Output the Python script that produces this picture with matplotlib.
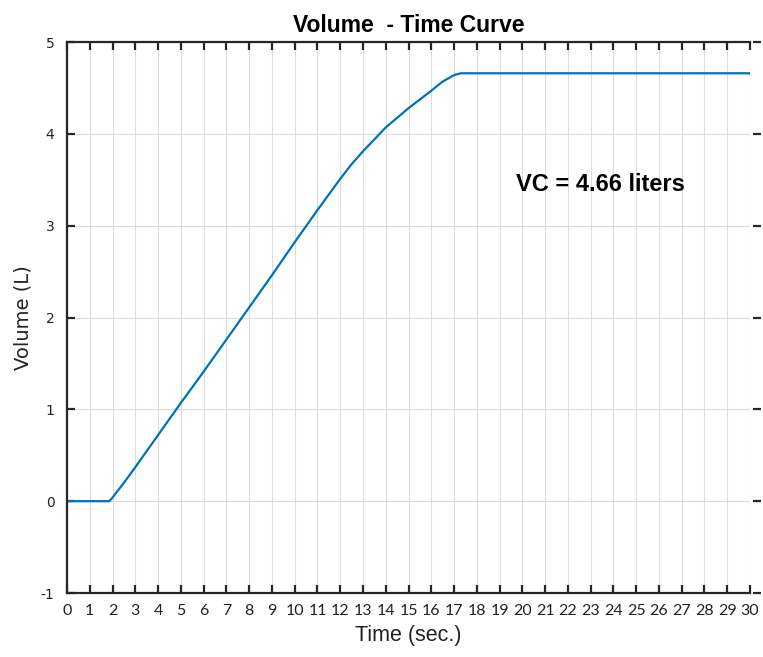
import matplotlib
matplotlib.use("Agg")
import matplotlib.pyplot as plt

# dados
tempo = [0, 1, 1.86, 2, 2.5, 3, 4, 5, 6, 7, 8, 9, 10, 11, 12, 12.5, 13,
         14, 15, 16, 16.5, 17, 17.3, 30]
volume = [0, 0, 0, 0.04, 0.2, 0.37, 0.72, 1.07, 1.41, 1.76, 2.11, 2.46, 2.82,
          3.17, 3.51, 3.67, 3.81, 4.07, 4.28, 4.47, 4.57, 4.64, 4.66, 4.66]
x_ticks = list(range(0, 31))
y_ticks = [-1, 0, 1, 2, 3, 4, 5]
vc = 4.66

cor_linha = "#0072BD"
cor_eixo = "#262626"

fig = plt.figure(figsize=(7.63, 6.57), dpi=100)
ax = fig.add_axes([0.0878, 0.0974, 0.8952, 0.8386])

ax.plot(tempo, volume, color=cor_linha, linewidth=1.6)

ax.set_xlim(0, 30)
ax.set_ylim(-1, 5)
ax.set_xticks(x_ticks)
ax.set_yticks(y_ticks)
ax.set_xticklabels([str(t) for t in x_ticks], fontsize=11.5, family="Lato")
ax.set_yticklabels([str(t) for t in y_ticks], fontsize=11, family="DejaVu Sans")

# grade
ax.grid(True, color="#dcdcdc", linewidth=0.8)
ax.set_axisbelow(True)

# eixos e ticks
for lado in ["left", "bottom", "top"]:
    ax.spines[lado].set_linewidth(1.6)
    ax.spines[lado].set_color(cor_eixo)
ax.spines["right"].set_position(("axes", 1.016))
ax.spines["right"].set_visible(False)

ax.tick_params(axis="both", direction="in", length=6, width=1.6, color=cor_eixo,
               labelcolor="#222222")
ax.tick_params(axis="x", top=True, pad=8)
ax.tick_params(axis="y", right=True, pad=9)

ax.set_title("Volume  - Time Curve", fontsize=16.5, fontweight="bold",
             family="Liberation Sans", pad=7)
ax.set_xlabel("Time (sec.)", fontsize=15.5, family="Liberation Sans", labelpad=5,
              color="#222222")
ax.set_ylabel("Volume (L)", fontsize=14, family="DejaVu Sans", labelpad=6,
              color="#222222")

ax.text(19.7, 3.45, f"VC = {vc:.2f} liters", fontsize=17, fontweight="bold",
        family="Liberation Sans", va="center", ha="left")

fig.savefig("out.png", dpi=100)
